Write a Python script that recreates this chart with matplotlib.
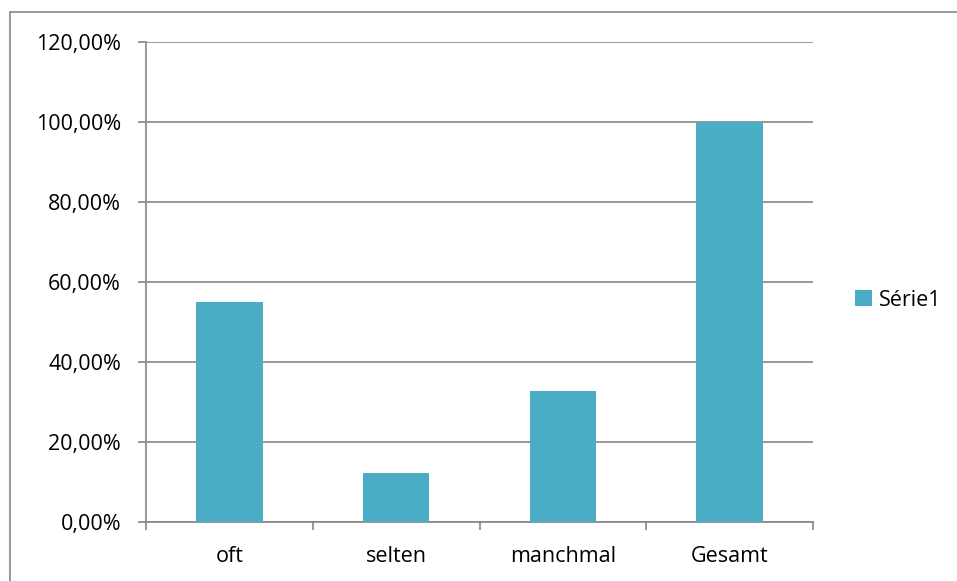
import matplotlib.pyplot as plt
from matplotlib.patches import Rectangle
from matplotlib.ticker import FuncFormatter

categories = ["oft", "selten", "manchmal", "Gesamt"]
values = [55.1, 12.2, 32.7, 100.0]
series_name = "Série1"

plt.rcParams['font.family'] = ['Open Sans', 'DejaVu Sans']
FS = 15.5

fig = plt.figure(figsize=(9.57, 5.81), dpi=100)
ax = fig.add_axes([0.1526, 0.1015, 0.6969, 0.8262])

x = range(len(categories))
bars = ax.bar(x, values, width=0.4, color='#4BACC6', label=series_name, zorder=3)

ax.set_xlim(-0.5, len(categories) - 0.5)
ax.set_ylim(0, 120)
ax.set_yticks(range(0, 121, 20))
ax.yaxis.set_major_formatter(FuncFormatter(lambda v, p: f"{v:.2f}%".replace('.', ',')))

# category labels centred, ticks on the boundaries
ax.set_xticks([i - 0.5 for i in range(len(categories) + 1)])
ax.set_xticklabels([])
ax.set_xticks(list(x), minor=True)
ax.set_xticklabels(categories, minor=True)
ax.tick_params(axis='x', which='minor', length=0, labelsize=FS, pad=17)
ax.tick_params(axis='x', which='major', direction='out', length=6, color='#868686', width=1.2)
ax.tick_params(axis='y', direction='out', length=6, color='#868686', width=1.2, labelsize=FS, pad=12)

ax.grid(axis='y', color='#868686', linewidth=1.2, zorder=0)
for side in ['top', 'right']:
    ax.spines[side].set_visible(False)
for side in ['left', 'bottom']:
    ax.spines[side].set_color('#868686')
    ax.spines[side].set_linewidth(1.2)

ax.legend(loc='center left', bbox_to_anchor=(1.063, 0.4625), frameon=False,
          fontsize=FS, handlelength=0.8, handleheight=0.8, handletextpad=0.3,
          borderaxespad=0, borderpad=0)

# chart area border (runs off the right and bottom edges)
fig.patches.append(Rectangle((10 / 957, -0.05), 1.0, 569 / 581 + 0.05, transform=fig.transFigure,
                             fill=False, edgecolor='#868686', linewidth=1.2))

fig.savefig('out.png', dpi=100)
